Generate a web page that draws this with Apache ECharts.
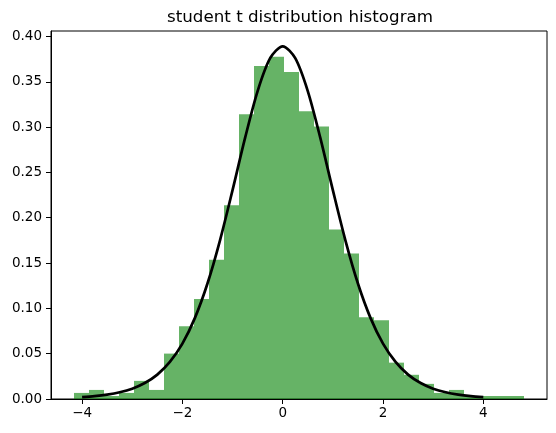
<!DOCTYPE html>
<html>
<head>
<meta charset="utf-8">
<script src="https://cdn.jsdelivr.net/npm/echarts@6/dist/echarts.min.js"></script>
<style>
html,body{margin:0;padding:0;background:#fff;}
#chart{width:556px;height:433px;}
</style>
</head>
<body>
<div id="chart"></div>
<script>
// Histogram bin edges (x values)
const binEdges = [-4.170, -3.871, -3.571, -3.272, -2.973, -2.674, -2.374, -2.075, -1.776, -1.476,
  -1.177, -0.878, -0.578, -0.279, 0.020, 0.320, 0.619, 0.918, 1.217, 1.517,
  1.816, 2.115, 2.415, 2.714, 3.013, 3.313, 3.612, 3.911, 4.210, 4.510, 4.809];
// Histogram densities (one per bin)
const binDensity = [0.0067, 0.0100, 0.0033, 0.0067, 0.0200, 0.0100, 0.0501, 0.0802, 0.1103, 0.1537,
  0.2138, 0.3141, 0.3675, 0.3776, 0.3608, 0.3174, 0.3007, 0.1871, 0.1604, 0.0902,
  0.0869, 0.0401, 0.0267, 0.0167, 0.0067, 0.0100, 0.0033, 0.0033, 0.0033, 0.0033];
// PDF curve
const curveX = [-4.0, -3.75, -3.5, -3.25, -3.0, -2.75, -2.5, -2.25, -2.0, -1.75, -1.5, -1.25, -1.0, -0.75, -0.5, -0.25,
  0.0, 0.25, 0.5, 0.75, 1.0, 1.25, 1.5, 1.75, 2.0, 2.25, 2.5, 2.75, 3.0, 3.25, 3.5, 3.75, 4.0];
const curveY = [0.0020, 0.0031, 0.0048, 0.0074, 0.0114, 0.0176, 0.0269, 0.0409, 0.0611, 0.0895, 0.1274, 0.1751, 0.2304, 0.2880, 0.3397, 0.3760,
  0.3891, 0.3760, 0.3397, 0.2880, 0.2304, 0.1751, 0.1274, 0.0895, 0.0611, 0.0409, 0.0269, 0.0176, 0.0114, 0.0074, 0.0048, 0.0031, 0.0020];
const xTicks = [-4, -2, 0, 2, 4];
const yTicks = [0, 0.05, 0.10, 0.15, 0.20, 0.25, 0.30, 0.35, 0.40];
const titleText = 'student t distribution histogram';

const barData = binDensity.map((d, i) => [binEdges[i], binEdges[i + 1], d]);
const lineData = curveX.map((x, i) => [x, curveY[i]]);

const FONT = 'DejaVu Sans';
const chart = echarts.init(document.getElementById('chart'), null, {renderer: 'canvas'});
chart.setOption({
  backgroundColor: '#ffffff',
  animation: false,
  title: {
    text: titleText,
    left: 295, top: 4, textAlign: 'center',
    textStyle: {fontFamily: FONT, fontSize: 16.7, fontWeight: 'normal', color: '#000'}
  },
  grid: {left: 51, right: 9, top: 31, bottom: 34, show: true, borderColor: '#000', borderWidth: 1, containLabel: false},
  xAxis: {
    type: 'value', min: -4.62, max: 5.27,
    axisLine: {show: true, onZero: false, lineStyle: {color: '#000', width: 1}},
    axisTick: {show: true, length: 5, inside: false, customValues: xTicks, lineStyle: {color: '#000'}},
    axisLabel: {show: true, customValues: xTicks, margin: 7, color: '#000', fontFamily: FONT, fontSize: 13.5,
      formatter: v => String(v).replace('-', '\u2212')},
    splitLine: {show: false}
  },
  yAxis: {
    type: 'value', min: 0, max: 0.406,
    axisLine: {show: true, onZero: false, lineStyle: {color: '#000', width: 1}},
    axisTick: {show: true, length: 5, inside: false, customValues: yTicks, lineStyle: {color: '#000'}},
    axisLabel: {show: true, customValues: yTicks, margin: 9, color: '#000', fontFamily: FONT, fontSize: 13.5,
      formatter: v => v.toFixed(2)},
    splitLine: {show: false}
  },
  series: [
    {
      type: 'custom',
      data: barData,
      z: 2,
      clip: true,
      renderItem: function (params, api) {
        const p0 = api.coord([api.value(0), api.value(2)]);
        const p1 = api.coord([api.value(1), 0]);
        const x0 = Math.round(p0[0]);
        const x1 = Math.round(p1[0]);
        return {
          type: 'rect',
          shape: {x: x0, y: p0[1], width: x1 - x0, height: p1[1] - p0[1]},
          style: {fill: 'rgba(0,128,0,0.6)', stroke: null}
        };
      },
      encode: {x: [0, 1], y: 2}
    },
    {
      type: 'line',
      data: lineData,
      z: 5,
      smooth: 0.3,
      showSymbol: false,
      symbol: 'none',
      lineStyle: {color: '#000', width: 2.7}
    }
  ]
});
</script>
</body>
</html>
